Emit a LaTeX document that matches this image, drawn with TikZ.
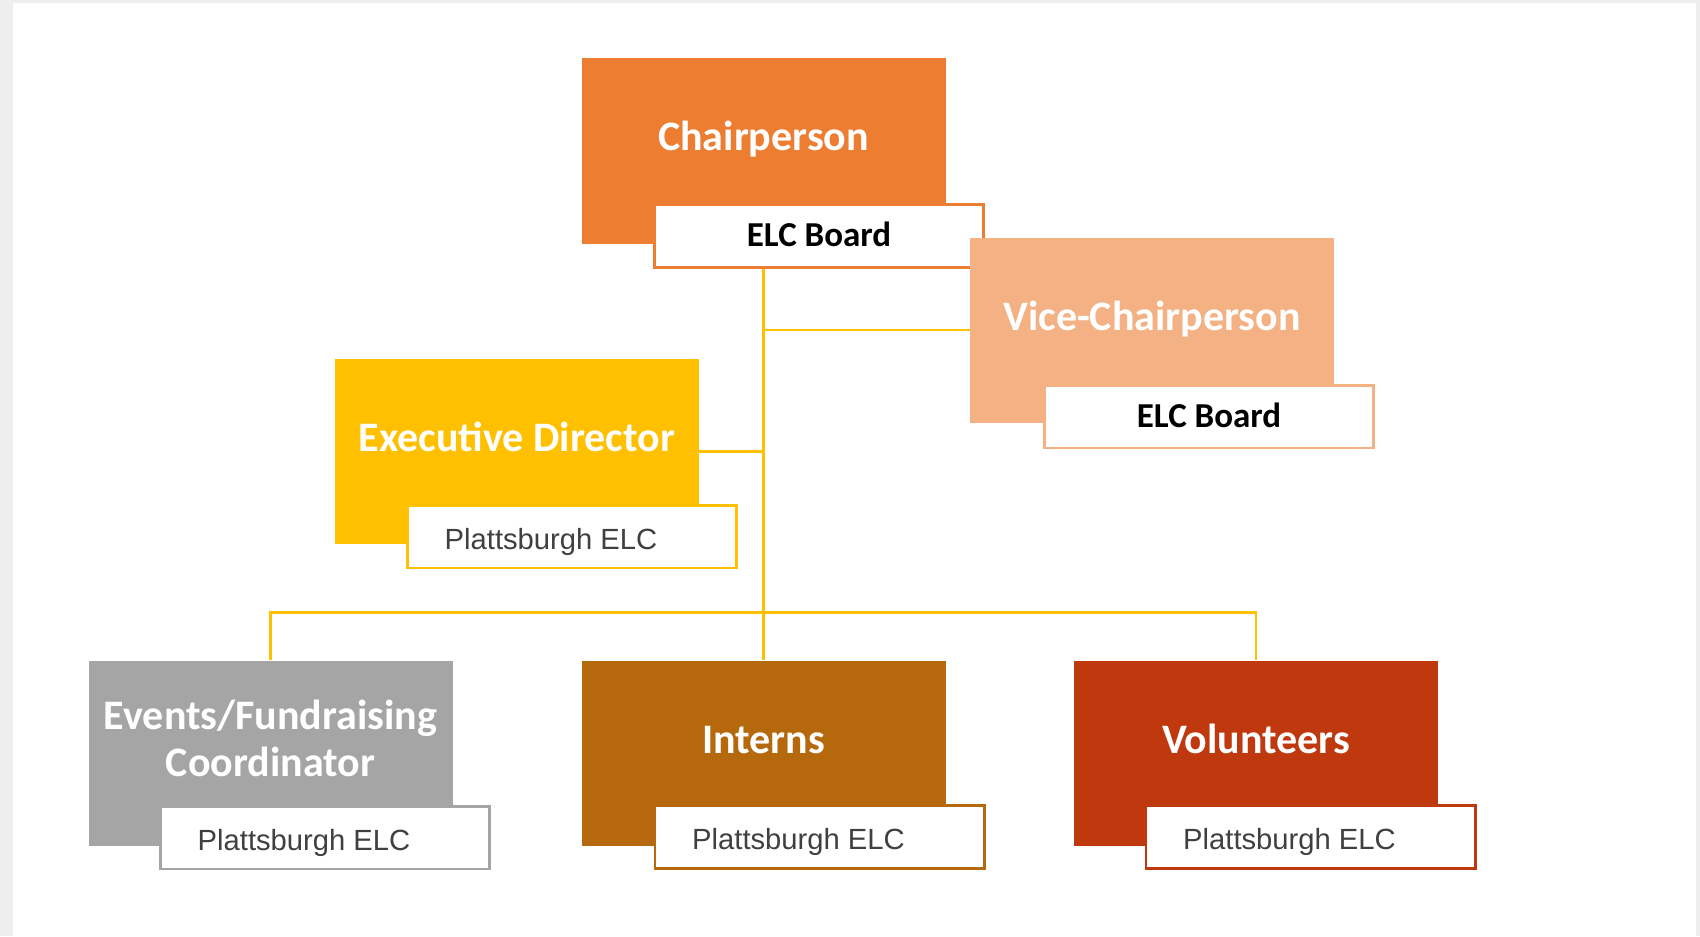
\documentclass[tikz,border=0pt]{standalone}
\usepackage{fontspec}
\setmainfont{Carlito}
\newfontfamily\arialfont{Liberation Sans}
\definecolor{framegray}{HTML}{EEEEEE}
\definecolor{chairorange}{HTML}{ED7D31}
\definecolor{viceorange}{HTML}{F4B183}
\definecolor{execgold}{HTML}{FFC000}
\definecolor{eventsgray}{HTML}{A5A5A5}
\definecolor{internsbrown}{HTML}{B5690C}
\definecolor{volred}{HTML}{C0390E}
\definecolor{textgray}{HTML}{404040}
\newcommand\mystrutT{\rule{0pt}{16pt}}
\newcommand\mystrutB{\rule[-16pt]{0pt}{16pt}}
\newcommand\placelabel{Plattsburgh ELC\hspace{21pt}\mbox{}}
\begin{document}
\begin{tikzpicture}[x=0.5pt,y=-0.5pt,
  mainbox/.style={rectangle, draw=none, inner sep=0pt, minimum width=182pt, minimum height=92.5pt,
    text=white, font=\fontsize{21}{23.5}\selectfont\bfseries, align=center},
  subbox/.style={rectangle, fill=white, line width=1.4pt, inner sep=0pt,
    minimum width=164.6pt, minimum height=31.4pt, text depth=0pt},
  boardtext/.style={font=\fontsize{17.5}{20}\selectfont\bfseries, text=black, text height=10.5pt},
  placetext/.style={font=\arialfont\fontsize{14.6}{17}\selectfont, text=textgray, text height=12.8pt},
  link/.style={draw=execgold, line width=1.4pt}]
\useasboundingbox (0,0) rectangle (1700,936);
\fill[framegray] (0,0) rectangle (1700,936);
\fill[white] (13,3) rectangle (1696,936);

% top level
\node[mainbox, fill=chairorange] (chair) at (763.5,151) {\mystrutT Chairperson\mystrutB};
\node[subbox, draw=chairorange, boardtext] (chairsub) at (819,236) {ELC Board};

\node[mainbox, fill=viceorange] (vice) at (1152,330) {\mystrutT Vice-Chairperson\mystrutB};
\node[subbox, draw=viceorange, boardtext] (vicesub) at (1209,416.5) {ELC Board};

\node[mainbox, fill=execgold] (exec) at (517,451.5) {\mystrutT Executive Director\mystrutB};
\node[subbox, draw=execgold, placetext] (execsub) at (572,536.5) {\placelabel};

% bottom level
\node[mainbox, fill=eventsgray] (events) at (270.5,753) {\mystrutT Events/Fundraising\\Coordinator\mystrutB};
\node[subbox, draw=eventsgray, placetext] (eventssub) at (325,837.5) {\placelabel};

\node[mainbox, fill=internsbrown] (interns) at (763.5,753) {\mystrutT Interns\mystrutB};
\node[subbox, draw=internsbrown, placetext] (internssub) at (819.5,837) {\placelabel};

\node[mainbox, fill=volred] (volunteers) at (1256,753) {\mystrutT Volunteers\mystrutB};
\node[subbox, draw=volred, placetext] (volunteerssub) at (1310.5,837) {\placelabel};

% connectors
\coordinate (bus) at (763.5,612.7);
\draw[link] (chairsub.south -| chair.south) -- (interns.north);
\draw[link] (vice.west -| chair.south) -- (vice.west);
\draw[link] (exec.east) -- (exec.east -| chair.south);
\draw[link] (events.north) |- (bus) -| (volunteers.north);
\end{tikzpicture}
\end{document}
